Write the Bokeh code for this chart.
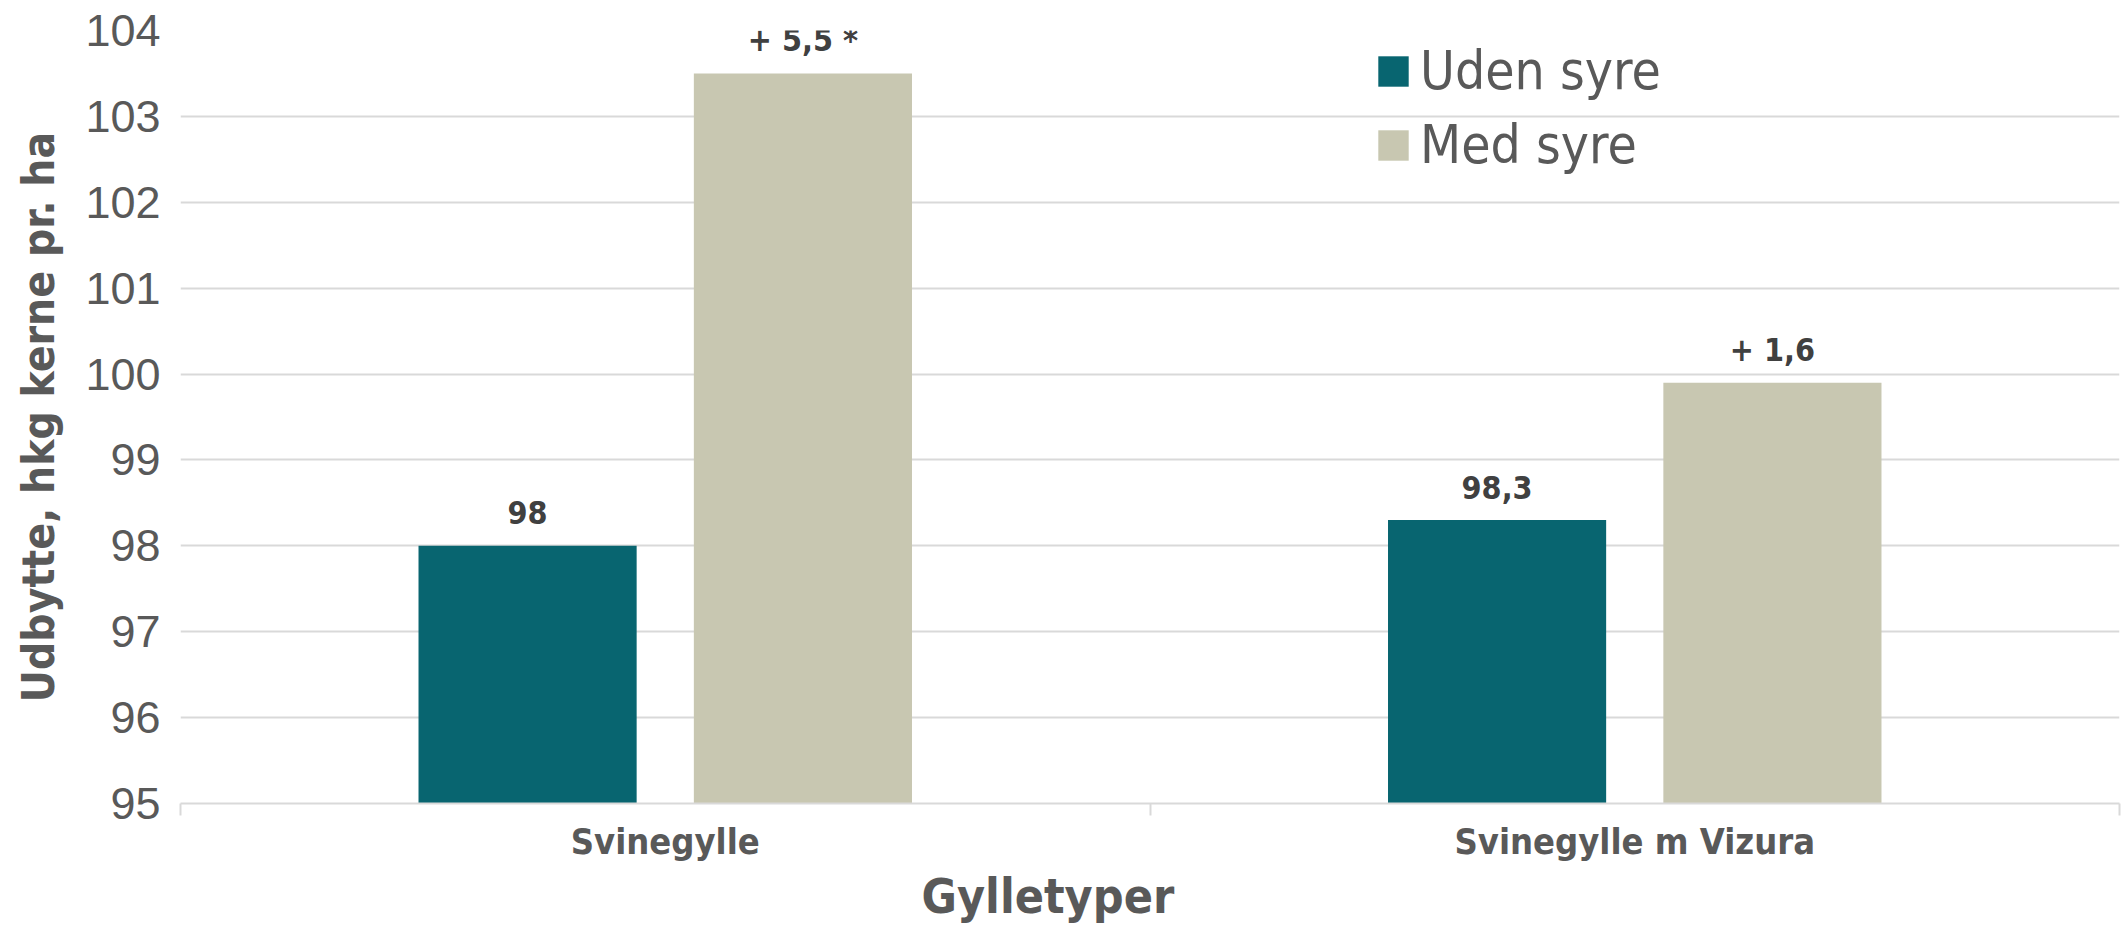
from bokeh.plotting import figure
from bokeh.models import Range1d, FixedTicker, Legend, LegendItem, ColumnDataSource, Title
from bokeh.core.properties import value
from bokeh.embed import file_html
from bokeh.resources import INLINE

categories = ["Svinegylle", "Svinegylle m Vizura"]
series_names = ["Uden syre", "Med syre"]
uden_syre = [98.0, 98.3]
med_syre = [103.5, 99.9]
uden_labels = ["98", "98,3"]
med_labels = ["+ 5,5 *", "+ 1,6"]
y_ticks = [95, 96, 97, 98, 99, 100, 101, 102, 103, 104]
x_title = "Gylletyper"
y_title = "Udbytte, hkg kerne pr. ha"

colors = ["#086570", "#C8C7B1"]
NARROW = "Liberation Sans Narrow, Arial Narrow, DejaVu Sans Condensed, sans-serif"
REG = "Liberation Sans, Arial, sans-serif"
GREY = "#595959"

bar_w = 0.225
off = 0.142
centers = [i + 0.5 for i in range(len(categories))]

p = figure(width=2122, height=925, output_backend="svg", toolbar_location=None,
           x_range=Range1d(0, len(categories)), y_range=Range1d(y_ticks[0], y_ticks[-1]),
           min_border_left=180, min_border_right=3, min_border_top=30, min_border_bottom=122)
p.outline_line_color = None
p.background_fill_color = "white"
p.border_fill_color = "white"

src_u = ColumnDataSource(dict(x=[c - off for c in centers], top=uden_syre, lab=uden_labels))
src_m = ColumnDataSource(dict(x=[c + off for c in centers], top=med_syre, lab=med_labels))

r_u = p.vbar(x="x", top="top", bottom=y_ticks[0], width=bar_w, source=src_u,
             fill_color=colors[0], line_color=None)
r_m = p.vbar(x="x", top="top", bottom=y_ticks[0], width=bar_w, source=src_m,
             fill_color=colors[1], line_color=None)

for src in (src_u, src_m):
    p.text(x="x", y="top", text="lab", source=src, text_align="center",
           text_baseline="alphabetic", y_offset=-33, text_color="#404040",
           text_font=value(NARROW), text_font_style="bold", text_font_size="32px")

# grid
p.xgrid.visible = False
p.ygrid.ticker = FixedTicker(ticks=y_ticks)
p.ygrid.grid_line_color = "#D9D9D9"
p.ygrid.grid_line_width = 2

# y axis
ya = p.yaxis[0]
ya.ticker = FixedTicker(ticks=y_ticks)
ya.axis_line_color = None
ya.major_tick_line_color = None
ya.minor_tick_line_color = None
ya.major_label_text_font = REG
ya.major_label_text_font_size = "45px"
ya.major_label_text_color = GREY
ya.major_label_standoff = 14
ya.axis_label = y_title
ya.axis_label_text_font = NARROW
ya.axis_label_text_font_style = "bold"
ya.axis_label_text_font_size = "44px"
ya.axis_label_text_color = GREY
ya.axis_label_standoff = 18

# x axis
xa = p.xaxis[0]
xa.ticker = FixedTicker(ticks=centers, minor_ticks=[float(i) for i in range(len(categories) + 1)])
xa.major_label_overrides = {c: name for c, name in zip(centers, categories)}
xa.axis_line_color = "#D9D9D9"
xa.axis_line_width = 2
xa.major_tick_line_color = None
xa.major_tick_out = 0
xa.major_tick_in = 0
xa.minor_tick_line_color = "#D9D9D9"
xa.minor_tick_line_width = 2
xa.minor_tick_in = 0
xa.minor_tick_out = 12
xa.major_label_text_font = NARROW
xa.major_label_text_font_style = "bold"
xa.major_label_text_font_size = "36px"
xa.major_label_text_color = GREY
xa.major_label_standoff = 5

# x axis title below the axis, slightly left of centre as in the reference
p.add_layout(Title(text=x_title, align="left", offset=741, standoff=2,
                   text_font=NARROW, text_font_style="bold", text_font_size="48px",
                   text_color=GREY), "below")

legend = Legend(items=[LegendItem(label=series_names[0], renderers=[r_u]),
                       LegendItem(label=series_names[1], renderers=[r_m])],
                location=(1194, 628), orientation="vertical",
                border_line_color=None, background_fill_alpha=0,
                padding=0, margin=0, spacing=13,
                glyph_width=38, glyph_height=38, label_height=60, label_standoff=8,
                label_text_font=NARROW, label_text_font_size="53px", label_text_color=GREY)
p.add_layout(legend, "center")

open("out.html", "w").write(file_html(p, INLINE))
